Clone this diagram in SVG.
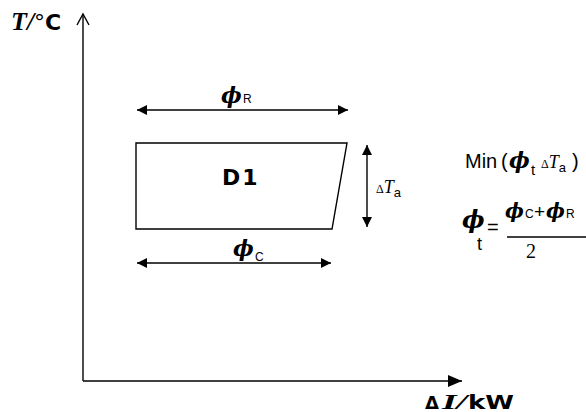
<svg xmlns="http://www.w3.org/2000/svg" width="586" height="412" viewBox="0 0 586 412">
<style>
.ln{stroke:#000;stroke-width:1.4;fill:none}
.phi{font-family:"DejaVu Serif",serif;font-style:italic;font-weight:bold;fill:#000}
.sans{font-family:"DejaVu Sans","Liberation Sans",sans-serif;fill:#000}
.ar{font-family:"Liberation Sans",Arial,sans-serif;fill:#000}
.ser{font-family:"Liberation Serif","Times New Roman",serif;fill:#000}
</style>
<defs>
<marker id="ah" viewBox="0 0 10 10" refX="10" refY="5" markerWidth="10" markerHeight="10" markerUnits="userSpaceOnUse" orient="auto-start-reverse">
<path d="M0,0 L10,5 L0,10 Z" fill="#000"/>
</marker>
<marker id="ahb" viewBox="0 0 14 12" refX="14" refY="6" markerWidth="15" markerHeight="12" markerUnits="userSpaceOnUse" orient="auto">
<path d="M0,0 L14,6 L0,12 Z" fill="#000"/>
</marker>
</defs>
<g id="axes">
<line class="ln" x1="83" y1="381" x2="83" y2="14"/>
<polyline class="ln" points="77,25 83,14 89,25"/>
<line class="ln" x1="83" y1="381" x2="462" y2="381" marker-end="url(#ahb)"/>
<text x="11" y="30"><tspan class="ser" font-size="26" font-style="italic" font-weight="bold">T/</tspan><tspan class="sans" font-size="22">°</tspan><tspan class="sans" font-size="22" font-weight="bold">C</tspan></text>
<text class="sans" x="425" y="409" font-size="18" font-weight="bold">Δ</text>
<text class="ser" x="442" y="409" font-size="20" font-style="italic" font-weight="bold" textLength="25" lengthAdjust="spacingAndGlyphs">I/</text>
<text class="sans" x="468" y="409" font-size="19" font-weight="bold" textLength="46" lengthAdjust="spacingAndGlyphs">kW</text>
</g>
<g id="D1">
<polygon class="ln" points="136,143 347,143 332,229 136,229" stroke-width="1.2"/>
<text class="sans" x="222" y="185" font-size="22" font-weight="bold" letter-spacing="2">D1</text>
</g>
<g id="connectors">
<line class="ln" x1="137" y1="110" x2="348" y2="110" marker-start="url(#ah)" marker-end="url(#ah)"/>
<line class="ln" x1="137" y1="263" x2="331" y2="263" marker-start="url(#ah)" marker-end="url(#ah)"/>
<line class="ln" x1="367" y1="145" x2="367" y2="227" marker-start="url(#ah)" marker-end="url(#ah)"/>
</g>
<g id="labels">
<text class="phi" x="221" y="103" font-size="22">ϕ</text>
<text class="ar" x="243" y="103" font-size="12">R</text>
<text class="phi" x="233" y="256" font-size="22">ϕ</text>
<text class="ar" x="255" y="261" font-size="12">C</text>
<text x="376" y="193"><tspan class="ser" font-size="12">Δ</tspan><tspan class="ser" font-size="18" font-style="italic">T</tspan><tspan class="ar" font-size="13" dy="4">a</tspan></text>
</g>
<g id="formula">
<text class="ar" x="465" y="168" font-size="20">Min</text>
<text class="ar" x="501" y="168" font-size="20">(</text>
<text class="phi" x="509" y="168" font-size="22">ϕ</text>
<text class="ar" x="531" y="175" font-size="15">t</text>
<text x="541" y="168"><tspan class="ser" font-size="12">Δ</tspan><tspan class="ser" font-size="18" font-style="italic">T</tspan><tspan class="ar" font-size="13" dy="4">a</tspan></text>
<text class="ar" x="572" y="168" font-size="20">)</text>
<text class="phi" x="462" y="228" font-size="24">ϕ</text>
<text class="ar" x="477" y="250" font-size="18">t</text>
<text class="ar" x="487" y="234" font-size="20">=</text>
<text class="phi" x="505" y="218" font-size="20">ϕ</text>
<text class="ar" x="525" y="218" font-size="12">C</text>
<text class="ar" x="534" y="218" font-size="19">+</text>
<text class="phi" x="546" y="218" font-size="20">ϕ</text>
<text class="ar" x="566" y="218" font-size="12">R</text>
<line class="ln" x1="507" y1="237" x2="586" y2="237" stroke-width="1"/>
<text class="ser" x="531" y="258" font-size="20" text-anchor="middle">2</text>
</g>
</svg>
